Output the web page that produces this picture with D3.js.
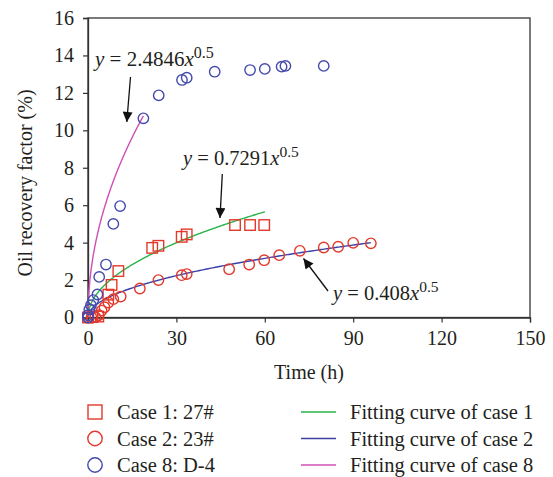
<!DOCTYPE html>
<html>
<head>
<meta charset="utf-8">
<script src="https://cdn.jsdelivr.net/npm/d3@7"></script>
<style>
  body { margin: 0; background: #fff; }
  text { font-family: "Liberation Serif", "Times New Roman", serif; fill: #231f20; }
</style>
</head>
<body>
<div id="chart"></div>
<script>
// data
var case1Time = [0, 1.5, 3.5, 6.9, 8.0, 10.3, 21.8, 23.9, 31.8, 33.5, 49.9, 55, 59.8];
var case1Rec  = [0, 0.02, 0.05, 1.22, 1.74, 2.48, 3.72, 3.83, 4.31, 4.44, 4.94, 4.94, 4.94];

var case2Time = [0, 1.2, 2.5, 3.6, 4.6, 5.6, 6.9, 8.6, 11.1, 17.6, 23.9, 31.8, 33.5, 47.9, 54.7, 59.8, 64.9, 71.9, 80, 84.9, 90, 96];
var case2Rec  = [0, 0, 0.02, 0.12, 0.37, 0.55, 0.8, 0.98, 1.12, 1.55, 2.0, 2.26, 2.32, 2.58, 2.83, 3.06, 3.33, 3.56, 3.74, 3.78, 3.99, 3.96];

var case8Time = [0, 0, 0.45, 1.0, 1.8, 3.2, 3.8, 6.1, 8.6, 10.9, 18.8, 24, 31.9, 33.5, 43, 55, 60, 65.7, 67, 80];
var case8Rec  = [0, 0.12, 0.43, 0.66, 0.93, 1.23, 2.17, 2.83, 5.0, 5.95, 10.64, 11.87, 12.69, 12.81, 13.13, 13.22, 13.28, 13.4, 13.44, 13.44];

// fitting curves y = a * x^0.5
var fitNames = ["Fitting curve of case 1", "Fitting curve of case 2", "Fitting curve of case 8"];
var fitCoef  = [0.7291, 0.408, 2.4846];
var fitEnd   = [60, 96, 18.8];

var xTicks = [0, 30, 60, 90, 120, 150];
var yTicks = [0, 2, 4, 6, 8, 10, 12, 14, 16];

var width = 553, height = 477;
var red = "#e3392c", blue = "#4349ad";
var fitColors = ["#2bb34a", "#3c40a6", "#d04fb6"];
var font = "Liberation Serif, Times New Roman, serif";

var svg = d3.select("#chart").append("svg")
    .attr("width", width)
    .attr("height", height);

var x = d3.scaleLinear().domain([0, 150]).range([88, 530]);
var y = d3.scaleLinear().domain([0, 16]).range([317.5, 18]);

// frame
svg.append("rect")
    .attr("x", x(0)).attr("y", y(16))
    .attr("width", x(150) - x(0)).attr("height", y(0) - y(16))
    .attr("fill", "none").attr("stroke", "#333").attr("stroke-width", 1.3);

var xAxis = svg.append("g")
    .attr("transform", "translate(0," + y(0) + ")")
    .call(d3.axisBottom(x).tickValues(xTicks).tickSize(5).tickPadding(8));
var yAxis = svg.append("g")
    .attr("transform", "translate(" + x(0) + ",0)")
    .call(d3.axisLeft(y).tickValues(yTicks).tickSize(5).tickPadding(9));

[xAxis, yAxis].forEach(function (g) {
    g.attr("font-family", font).attr("font-size", 20);
    g.select(".domain").attr("stroke", "#333").attr("stroke-width", 1.3);
    g.selectAll(".tick line").attr("stroke", "#333").attr("stroke-width", 1.2);
    g.selectAll(".tick text").attr("fill", "#231f20");
});

svg.append("text")
    .attr("x", 309).attr("y", 379)
    .attr("text-anchor", "middle")
    .style("font-size", "20px")
    .text("Time (h)");

svg.append("text")
    .attr("transform", "translate(32,183) rotate(-90)")
    .attr("text-anchor", "middle")
    .style("font-size", "20px")
    .text("Oil recovery factor (%)");

// fitting curves
var line = d3.line().x(d => x(d[0])).y(d => y(d[1]));
fitCoef.forEach(function (a, i) {
    var pts = d3.range(0, fitEnd[i] + 0.001, fitEnd[i] / 200).map(t => [t, a * Math.sqrt(t)]);
    svg.append("path")
        .attr("d", line(pts))
        .attr("fill", "none")
        .attr("stroke", fitColors[i])
        .attr("stroke-width", 1.4);
});

// markers
var sq = 10.5;
svg.append("g").selectAll("rect")
    .data(d3.zip(case1Time, case1Rec))
    .enter().append("rect")
    .attr("x", d => x(d[0]) - sq / 2)
    .attr("y", d => y(d[1]) - sq / 2)
    .attr("width", sq).attr("height", sq)
    .attr("fill", "none").attr("stroke", red).attr("stroke-width", 1.4);

svg.append("g").selectAll("circle")
    .data(d3.zip(case2Time, case2Rec))
    .enter().append("circle")
    .attr("cx", d => x(d[0])).attr("cy", d => y(d[1])).attr("r", 5.2)
    .attr("fill", "none").attr("stroke", red).attr("stroke-width", 1.4);

svg.append("g").selectAll("circle")
    .data(d3.zip(case8Time, case8Rec))
    .enter().append("circle")
    .attr("cx", d => x(d[0])).attr("cy", d => y(d[1])).attr("r", 5.2)
    .attr("fill", "none").attr("stroke", blue).attr("stroke-width", 1.4);

// annotations
svg.append("defs").append("marker")
    .attr("id", "arrow")
    .attr("viewBox", "0 0 10 10")
    .attr("refX", 10).attr("refY", 5)
    .attr("markerWidth", 12).attr("markerHeight", 10)
    .attr("markerUnits", "userSpaceOnUse")
    .attr("orient", "auto")
    .append("path").attr("d", "M0,0L10,5L0,10Z").attr("fill", "#111");

function equation(px, py, coef, size) {
    var t = svg.append("text").attr("x", px).attr("y", py).style("font-size", size + "px");
    t.append("tspan").style("font-style", "italic").text("y");
    t.append("tspan").text(" = " + coef);
    t.append("tspan").style("font-style", "italic").text("x");
    t.append("tspan").attr("dy", -8).style("font-size", (size - 5) + "px").text("0.5");
}
function arrow(x1, y1, x2, y2) {
    svg.append("line")
        .attr("x1", x1).attr("y1", y1).attr("x2", x2).attr("y2", y2)
        .attr("stroke", "#111").attr("stroke-width", 1.3)
        .attr("marker-end", "url(#arrow)");
}
equation(95, 66, "2.4846", 21);
arrow(130.5, 77, 126.8, 122);
equation(183, 165, "0.7291", 20.5);
arrow(222.3, 174, 220, 218);
equation(333, 300, "0.408", 20.5);
arrow(328, 291, 303.5, 258.5);

// legend
var legendRows = [412, 438.5, 465];
var markerNames = ["Case 1: 27#", "Case 2: 23#", "Case 8: D-4"];
var markerColors = [red, red, blue];
var lg = svg.append("g");
markerNames.forEach(function (name, i) {
    var cy = legendRows[i];
    if (i === 0) {
        lg.append("rect").attr("x", 95 - 7).attr("y", cy - 7).attr("width", 14).attr("height", 14)
            .attr("fill", "none").attr("stroke", markerColors[i]).attr("stroke-width", 1.4);
    } else {
        lg.append("circle").attr("cx", 95).attr("cy", cy).attr("r", 7.2)
            .attr("fill", "none").attr("stroke", markerColors[i]).attr("stroke-width", 1.4);
    }
    lg.append("text").attr("x", 117).attr("y", cy + 7).style("font-size", "20.5px").text(name);
});
fitNames.forEach(function (name, i) {
    var cy = legendRows[i];
    lg.append("line").attr("x1", 301).attr("x2", 336).attr("y1", cy).attr("y2", cy)
        .attr("stroke", fitColors[i]).attr("stroke-width", 1.4);
    lg.append("text").attr("x", 350).attr("y", cy + 7).style("font-size", "20.5px").text(name);
});
</script>
</body>
</html>
